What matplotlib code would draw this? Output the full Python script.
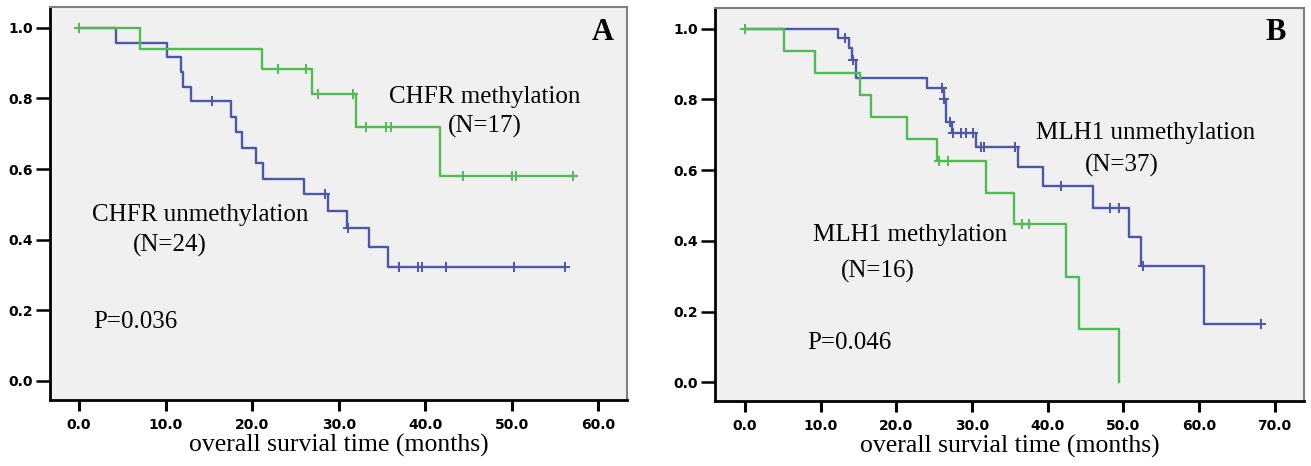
import numpy as np
import matplotlib
matplotlib.use("Agg")
import matplotlib.pyplot as plt

# ---------------- data ----------------
# Panel A: CHFR methylation (N=17) - green
a_meth_t = [0.0, 7.0, 21.1, 26.9, 32.0, 41.7, 57.1]
a_meth_s = [1.0, 0.941, 0.882, 0.814, 0.72, 0.579, 0.579]
a_meth_cens = [0.0, 23.0, 26.2, 27.6, 31.6, 33.2, 35.5, 36.0, 44.4, 50.0, 50.5, 57.1]

# Panel A: CHFR unmethylation (N=24) - blue
a_unm_t = [0.0, 4.3, 10.2, 11.8, 12.0, 12.9, 17.6, 18.1, 18.8, 20.5, 21.3, 26.0,
           28.8, 30.9, 33.5, 35.7, 56.1]
a_unm_s = [1.0, 0.958, 0.917, 0.875, 0.833, 0.792, 0.748, 0.704, 0.660, 0.616, 0.572,
           0.528, 0.48, 0.432, 0.378, 0.324, 0.324]
a_unm_cens = [15.4, 28.4, 31.1, 37.0, 39.2, 39.6, 42.4, 50.2, 56.1]

# Panel B: MLH1 methylation (N=16) - green
b_meth_t = [0.0, 5.2, 9.3, 15.2, 16.6, 21.4, 25.4, 31.8, 35.5, 42.5, 44.1, 49.4]
b_meth_s = [1.0, 0.938, 0.875, 0.8125, 0.75, 0.6875, 0.625, 0.536, 0.448, 0.299, 0.15, 0.0]
b_meth_cens = [0.0, 25.7, 26.9, 36.6, 37.5]

# Panel B: MLH1 unmethylation (N=37) - blue
b_unm_t = [0.0, 12.3, 13.8, 14.1, 14.7, 24.1, 26.3, 26.6, 27.3, 30.6, 36.1, 39.4,
           46.0, 50.8, 52.4, 60.7, 68.2]
b_unm_s = [1.0, 0.973, 0.945, 0.911, 0.86, 0.831, 0.80, 0.737, 0.704, 0.664, 0.61, 0.555,
           0.492, 0.412, 0.329, 0.165, 0.165]
b_unm_cens = [13.2, 14.3, 26.1, 26.3, 27.1, 27.5, 28.6, 29.2, 30.1, 31.2, 31.6, 35.7,
              41.8, 48.3, 49.5, 52.6, 68.2]

x_label = "overall survial time (months)"
a_xticks = [0, 10, 20, 30, 40, 50, 60]
b_xticks = [0, 10, 20, 30, 40, 50, 60, 70]
yticks = [0.0, 0.2, 0.4, 0.6, 0.8, 1.0]

GREEN = "#4fbb52"
BLUE = "#4b57a8"
SERIF = ["Liberation Serif", "DejaVu Serif"]
SANS = ["DejaVu Sans"]
TXT = 18

W, H = 1311, 466
fig = plt.figure(figsize=(W / 100, H / 100), dpi=100)
fig.patch.set_facecolor("white")


def surv_at(times, surv, t):
    idx = np.searchsorted(np.asarray(times), t, side="right") - 1
    idx = max(idx, 0)
    return surv[idx]


def draw_curve(ax, times, surv, cens, color):
    ax.step(times, surv, where="post", color=color, lw=1.7, zorder=3)
    cy = [surv_at(times, surv, c) for c in cens]
    ax.plot(cens, cy, ls="none", marker="+", ms=7, mew=1.4, color=color, zorder=4)


def style_axes(ax, xlim, ylim, xticks):
    ax.set_facecolor("#f0f0f0")
    ax.set_xlim(*xlim)
    ax.set_ylim(*ylim)
    ax.set_xticks(xticks)
    ax.set_xticklabels([f"{v:.1f}" for v in xticks])
    ax.set_yticks(yticks)
    ax.set_yticklabels([f"{v:.1f}" for v in yticks])
    for lab in ax.get_xticklabels() + ax.get_yticklabels():
        lab.set_family(SANS)
        lab.set_fontweight("bold")
        lab.set_fontsize(10)
    ax.tick_params(axis="y", direction="out", length=10, width=1.8, pad=2)
    ax.tick_params(axis="x", direction="out", length=8, width=2.2, pad=5)
    for s in ("left", "bottom"):
        ax.spines[s].set_color("black")
        ax.spines[s].set_linewidth(2.0)
    for s in ("top", "right"):
        ax.spines[s].set_color("#7f7f7f")
        ax.spines[s].set_linewidth(1.5)
    ax.set_xlabel(x_label, family=SERIF, fontsize=18.5, labelpad=1)


# ---------------- Panel A ----------------
axA = fig.add_axes([50 / W, 1 - 400 / H, (627 - 50) / W, (400 - 7) / H])
style_axes(axA, (-3.35, 63.3), (-0.054, 1.059), a_xticks)
draw_curve(axA, a_unm_t, a_unm_s, a_unm_cens, BLUE)
draw_curve(axA, a_meth_t, a_meth_s, a_meth_cens, GREEN)
axA.text(46.9, 0.805, "CHFR methylation", family=SERIF, fontsize=TXT, ha="center", va="center")
axA.text(46.9, 0.72, "(N=17)", family=SERIF, fontsize=TXT, ha="center", va="center")
axA.text(14.0, 0.47, "CHFR unmethylation", family=SERIF, fontsize=TXT, ha="center", va="center")
axA.text(10.5, 0.385, "(N=24)", family=SERIF, fontsize=TXT, ha="center", va="center")
axA.text(1.6, 0.168, "P=0.036", family=SERIF, fontsize=TXT, ha="left", va="center")
axA.text(60.5, 0.986, "A", family=SERIF, fontsize=22, fontweight="bold", ha="center", va="center")

# ---------------- Panel B ----------------
axB = fig.add_axes([715 / W, 1 - 401 / H, (1304 - 715) / W, (401 - 8) / H])
style_axes(axB, (-3.97, 73.9), (-0.053, 1.0585), b_xticks)
draw_curve(axB, b_unm_t, b_unm_s, b_unm_cens, BLUE)
draw_curve(axB, b_meth_t, b_meth_s, b_meth_cens, GREEN)
axB.text(53.0, 0.705, "MLH1 unmethylation", family=SERIF, fontsize=TXT, ha="center", va="center")
axB.text(49.8, 0.612, "(N=37)", family=SERIF, fontsize=TXT, ha="center", va="center")
axB.text(21.8, 0.417, "MLH1 methylation", family=SERIF, fontsize=TXT, ha="center", va="center")
axB.text(17.6, 0.313, "(N=16)", family=SERIF, fontsize=TXT, ha="center", va="center")
axB.text(8.2, 0.11, "P=0.046", family=SERIF, fontsize=TXT, ha="left", va="center")
axB.text(70.1, 0.988, "B", family=SERIF, fontsize=22, fontweight="bold", ha="center", va="center")

fig.savefig("out.png", dpi=100, facecolor="white")
